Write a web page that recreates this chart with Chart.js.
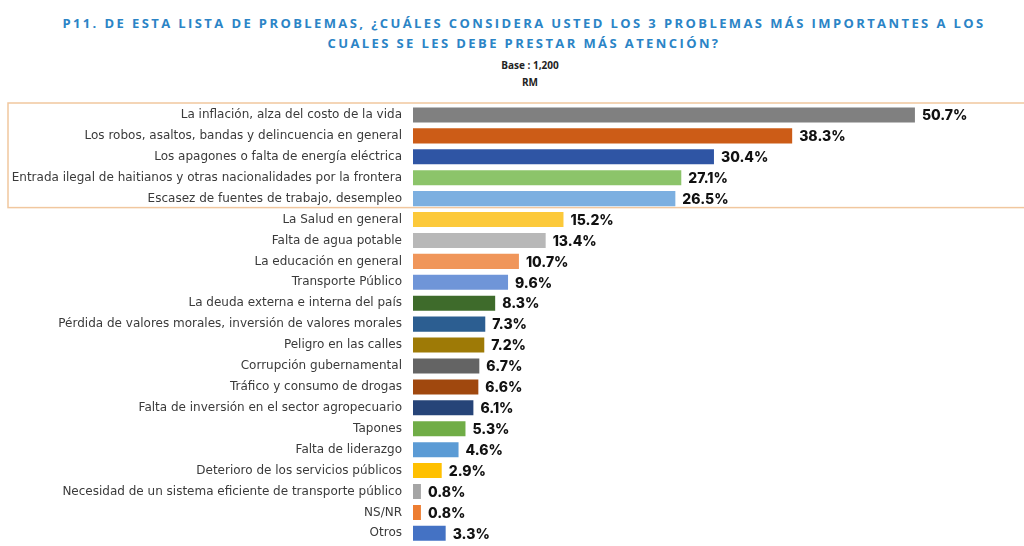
<!DOCTYPE html>
<html>
<head>
<meta charset="utf-8">
<script src="https://cdn.jsdelivr.net/npm/chart.js@4/dist/chart.umd.min.js"></script>
<style>
  html, body { margin: 0; padding: 0; background: #fff; }
  #wrap { position: relative; width: 1024px; height: 546px; overflow: hidden; }
  #title { position: absolute; top: 13px; left: 11px; width: 1026px; text-align: center;
    font-family: "Open Sans", sans-serif; font-weight: 700; font-size: 13px; letter-spacing: 2.4px;
    color: #2b84c6; line-height: 20px; }
  #sub { position: absolute; top: 57px; left: 0; width: 1060px; text-align: center;
    font-family: "Open Sans", sans-serif; font-weight: 700; font-size: 10px; color: #222; line-height: 17px; }
  canvas { position: absolute; top: 0; left: 0; }
</style>
</head>
<body>
<div id="wrap">
  <div id="title">P11. DE ESTA LISTA DE PROBLEMAS, ¿CUÁLES CONSIDERA USTED LOS 3 PROBLEMAS MÁS IMPORTANTES A LOS<br>CUALES SE LES DEBE PRESTAR MÁS ATENCIÓN?</div>
  <div id="sub">Base : 1,200<br>RM</div>
  <canvas id="chart" width="1024" height="562"></canvas>
</div>
<script>
// ---- data ----
const problems = [
  'La inflación, alza del costo de la vida',
  'Los robos, asaltos, bandas y delincuencia en general',
  'Los apagones o falta de energía eléctrica',
  'Entrada ilegal de haitianos y otras nacionalidades por la frontera',
  'Escasez de fuentes de trabajo, desempleo',
  'La Salud en general',
  'Falta de agua potable',
  'La educación en general',
  'Transporte Público',
  'La deuda externa e interna del país',
  'Pérdida de valores morales, inversión de valores morales',
  'Peligro en las calles',
  'Corrupción gubernamental',
  'Tráfico y consumo de drogas',
  'Falta de inversión en el sector agropecuario',
  'Tapones',
  'Falta de liderazgo',
  'Deterioro de los servicios públicos',
  'Necesidad de un sistema eficiente de transporte público',
  'NS/NR',
  'Otros'
];
const percents = [50.7, 38.3, 30.4, 27.1, 26.5, 15.2, 13.4, 10.7, 9.6, 8.3, 7.3, 7.2, 6.7, 6.6, 6.1, 5.3, 4.6, 2.9, 0.8, 0.8, 3.3];
const barColors = [
  '#808080', '#cc5c17', '#2f55a4', '#8cc46a', '#7cafe0',
  '#fcc93a', '#b8b8b8', '#f0965a', '#6f95d8', '#3e6b2b',
  '#2c5e91', '#9e7a06', '#646464', '#a0480e', '#264478',
  '#70ad47', '#5b9bd5', '#ffc000', '#a5a5a5', '#ed7d31', '#4472c4'
];
const topCount = 5; // first 5 answers are framed

// frame around top answers
const topBox = {
  id: 'topBox',
  beforeDatasetsDraw(chart) {
    const y = chart.scales.y;
    const half = (y.getPixelForValue(1) - y.getPixelForValue(0)) / 2;
    const top = y.getPixelForValue(0) - half - 1.5;
    const bottom = y.getPixelForValue(topCount - 1) + half - 1.5;
    const ctx = chart.ctx;
    ctx.save();
    ctx.strokeStyle = '#f1c79f';
    ctx.lineWidth = 1.5;
    ctx.strokeRect(8, top, 1030, bottom - top);
    ctx.restore();
  }
};

// value labels at the end of each bar
const valueLabels = {
  id: 'valueLabels',
  afterDatasetsDraw(chart) {
    const ctx = chart.ctx;
    const meta = chart.getDatasetMeta(0);
    ctx.save();
    ctx.font = '800 14px Inter, sans-serif';
    ctx.fillStyle = '#111';
    ctx.textBaseline = 'middle';
    meta.data.forEach((bar, i) => {
      ctx.fillText(percents[i].toFixed(1) + '%', bar.x + 7, bar.y + 1);
    });
    ctx.restore();
  }
};

new Chart(document.getElementById('chart'), {
  type: 'bar',
  data: {
    labels: problems,
    datasets: [{ data: percents, backgroundColor: barColors, barPercentage: 0.9, categoryPercentage: 0.8 }]
  },
  options: {
    indexAxis: 'y',
    responsive: false,
    animation: false,
    layout: { padding: { top: 104.5, bottom: 2, left: 0, right: 17 } },
    plugins: { legend: { display: false }, tooltip: { enabled: false } },
    scales: {
      x: { display: false, min: 0, max: 60 },
      y: {
        afterFit: s => { s.width = 413; },
        grid: { display: false, drawTicks: false },
        border: { display: false },
        ticks: { padding: 11, color: '#3a3a3a', font: { family: 'DejaVu Sans', size: 12 } }
      }
    }
  },
  plugins: [topBox, valueLabels]
});
</script>
</body>
</html>
